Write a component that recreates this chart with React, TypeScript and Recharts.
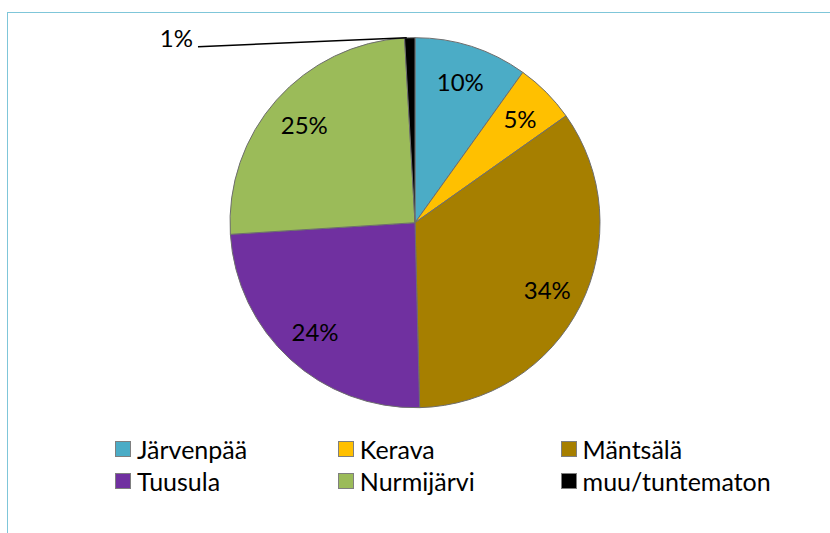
import React from 'react';
import { PieChart, Pie, Cell, Legend } from 'recharts';

const categories = ['Järvenpää', 'Kerava', 'Mäntsälä', 'Tuusula', 'Nurmijärvi', 'muu/tuntematon'];
const values = [9.9, 5.3, 34.4, 24.4, 25.1, 0.9];
const colors = ['#4bacc6', '#ffc000', '#a67f00', '#7030a0', '#9bbb59', '#000000'];

const data = categories.map((name, i) => ({ name, value: values[i] }));

const RAD = Math.PI / 180;
const FONT = 'Lato, "Open Sans", sans-serif';

const renderLabel = (props: any) => {
  const { cx, cy, midAngle, outerRadius, percent, index } = props;
  const text = `${Math.round(percent * 100)}%`;
  if (index === data.length - 1) {
    const ex = cx + outerRadius * Math.cos(-midAngle * RAD) - 3;
    const ey = cy + outerRadius * Math.sin(-midAngle * RAD);
    const lx = cx - 217;
    const ly = cy - outerRadius + 9;
    return (
      <g>
        <line x1={ex} y1={ey} x2={lx} y2={ly} stroke="#000" strokeWidth={1.5} />
        <text x={lx - 5} y={ly} textAnchor="end" fill="#000" fontSize={24} fontFamily={FONT}>
          {text}
        </text>
      </g>
    );
  }
  const r = outerRadius * 0.8;
  const x = cx + r * Math.cos(-midAngle * RAD);
  const y = cy + r * Math.sin(-midAngle * RAD);
  return (
    <text x={x} y={y} textAnchor="middle" dominantBaseline="central" fill="#000" fontSize={24} fontFamily={FONT}>
      {text}
    </text>
  );
};

const renderLegend = () => (
  <div style={{ position: 'relative', width: 830, height: 70, fontFamily: FONT, fontSize: 25 }}>
    {data.map((d, i) => {
      const col = i % 3;
      const row = Math.floor(i / 3);
      return (
        <div
          key={d.name}
          style={{
            position: 'absolute',
            left: 115 + col * 222.8,
            top: row * 31.5,
            height: 20,
            display: 'flex',
            alignItems: 'center',
            whiteSpace: 'nowrap',
          }}
        >
          <span
            style={{
              display: 'inline-block',
              width: 16,
              height: 16,
              background: colors[i],
              border: '1px solid #7f7f7f',
              boxSizing: 'border-box',
              marginRight: 6,
            }}
          />
          <span style={{ lineHeight: '20px', color: '#000' }}>{d.name}</span>
        </div>
      );
    })}
  </div>
);

export default function App() {
  return (
    <div style={{ position: 'absolute', left: 0, top: 0, width: 830, height: 533, overflow: 'hidden', background: '#fff' }}>
      <div
        style={{
          position: 'absolute',
          left: 7,
          top: 12,
          width: 1000,
          height: 1000,
          border: '1.5px solid #7fc6d9',
        }}
      />
      <div style={{ position: 'absolute', left: 0, top: 0 }}>
        <PieChart width={830} height={533} margin={{ top: 0, right: 0, bottom: 0, left: 0 }}>
          <Pie
            data={data}
            dataKey="value"
            nameKey="name"
            cx={415}
            cy={222.7}
            outerRadius={185}
            startAngle={90}
            endAngle={-270}
            stroke="#6e6e6e"
            strokeWidth={1}
            label={renderLabel}
            labelLine={false}
            isAnimationActive={false}
          >
            {data.map((d, i) => (
              <Cell key={d.name} fill={colors[i]} />
            ))}
          </Pie>
          <Legend
            content={renderLegend}
            verticalAlign="bottom"
            wrapperStyle={{ position: 'absolute', left: 0, top: 439, bottom: 'auto', width: 830 }}
          />
        </PieChart>
      </div>
    </div>
  );
}
